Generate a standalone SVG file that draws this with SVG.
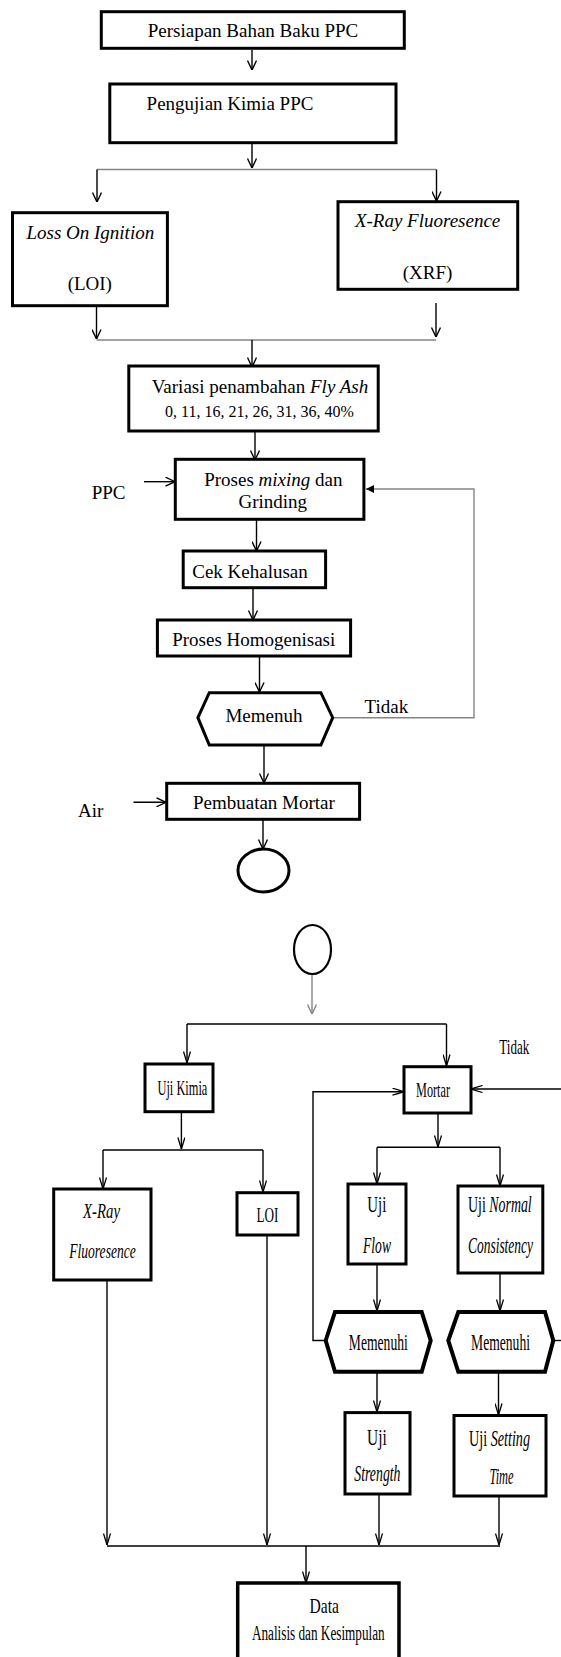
<svg xmlns="http://www.w3.org/2000/svg" width="561" height="1657" viewBox="0 0 561 1657">
<style>
.box{fill:#fff;stroke:#000;stroke-width:3}
.hex{fill:#fff;stroke:#000;stroke-width:3.5;stroke-linejoin:miter}
.t{font-family:"Liberation Serif","Times New Roman",serif;font-size:19px;fill:#000}
.s2{font-size:23px}
.s3{font-size:20px}
.m{text-anchor:middle}
.i{font-style:italic}
.ln{fill:none;stroke:#000;stroke-width:1.4}
.gl{fill:none;stroke:#858585;stroke-width:1.4}
.ar{marker-end:url(#a)}
.ag{marker-end:url(#ag)}
.ab{marker-end:url(#ab)}
.af{marker-end:url(#af)}
</style>
<defs>
<marker id="a" viewBox="0 0 10 10" refX="10" refY="5" markerWidth="10" markerHeight="10" markerUnits="userSpaceOnUse" orient="auto"><path d="M0.5,0.5 L10,5 L0.5,9.5" fill="none" stroke="#000" stroke-width="1.4"/></marker>
<marker id="ag" viewBox="0 0 10 10" refX="10" refY="5" markerWidth="10" markerHeight="10" markerUnits="userSpaceOnUse" orient="auto"><path d="M0.5,0.5 L10,5 L0.5,9.5" fill="none" stroke="#858585" stroke-width="1.4"/></marker>
<marker id="ab" viewBox="0 0 12 8" refX="12" refY="4" markerWidth="12" markerHeight="8" markerUnits="userSpaceOnUse" orient="auto"><path d="M0.5,0.5 L12,4 L0.5,7.5" fill="none" stroke="#000" stroke-width="1.3"/></marker>
<marker id="af" viewBox="0 0 8 8" refX="8" refY="4" markerWidth="8" markerHeight="8" markerUnits="userSpaceOnUse" orient="auto"><path d="M0,0 L8,4 L0,8 z" fill="#000"/></marker>
</defs>
<rect x="0" y="0" width="561" height="1657" fill="#fff"/>

<g id="connectors">
<path class="ln ar" d="M252,50 V70"/>
<path class="ln ar" d="M252,144 V168"/>
<path class="gl" d="M97,169.5 H436.5"/>
<path class="ln ar" d="M97,169.5 V202"/>
<path class="ln ar" d="M436.5,169.5 V201"/>
<path class="ln ar" d="M96.5,307 V339"/>
<path class="ln ar" d="M436,303 V337"/>
<path class="gl" d="M96.5,340 H436"/>
<path class="ln ar" d="M252,340 V367"/>
<path class="ln ar" d="M255,432 V460"/>
<path class="ln ar" d="M144,481.7 H175"/>
<path class="gl af" d="M332.7,717.7 H474 V489 H366"/>
<path class="ln ar" d="M256.5,520 V551"/>
<path class="ln ar" d="M253,589 V620"/>
<path class="ln ar" d="M259.5,657 V692"/>
<path class="ln ar" d="M264,746 V783"/>
<path class="ln ar" d="M133.5,802.3 H166"/>
<path class="ln ar" d="M263,816 V849"/>
<path class="gl ag" d="M312,974 V1014"/>

<path class="ln" d="M187,1024 H446.5"/>
<path class="ln ab" d="M187,1024 V1063"/>
<path class="ln ab" d="M446.5,1024 V1066"/>
<path class="ln ab" d="M181.4,1112 V1149"/>
<path class="ln" d="M103,1150 H263"/>
<path class="ln ab" d="M103,1150 V1189"/>
<path class="ln ab" d="M263,1150 V1192"/>
<path class="ln ab" d="M438,1113 V1147"/>
<path class="ln" d="M377,1147.3 H500"/>
<path class="ln ab" d="M377,1147.3 V1184"/>
<path class="ln ab" d="M500,1147.3 V1186"/>
<path class="ln ab" d="M377,1264 V1311"/>
<path class="ln ab" d="M500,1273 V1311"/>
<path class="ln ab" d="M325.7,1340.5 H313 V1091.7 H404"/>
<path class="ln ab" d="M561,1089 H471"/>
<path class="ln" d="M553.3,1340.5 H561"/>
<path class="ln ab" d="M377,1373 V1412"/>
<path class="ln ab" d="M498.5,1373 V1415"/>
<path class="ln ab" d="M107,1281 V1545"/>
<path class="ln ab" d="M267,1235 V1545"/>
<path class="ln ab" d="M379,1494 V1545"/>
<path class="ln ab" d="M499,1496 V1545"/>
<path class="ln" d="M107,1546 H500"/>
<path class="ln ab" d="M306,1546 V1583"/>
</g>

<g id="n-persiapan">
<rect class="box" x="101.3" y="11.7" width="303" height="36.6"/>
<text class="t m" x="253" y="37">Persiapan Bahan Baku PPC</text>
</g>
<g id="n-pengujian">
<rect class="box" x="109.8" y="84" width="286.2" height="58.7"/>
<text class="t m" x="230" y="110">Pengujian Kimia PPC</text>
</g>
<g id="n-loi">
<rect class="box" x="12.5" y="212.7" width="154.9" height="93"/>
<text class="t m i" x="90.3" y="239">Loss On Ignition</text>
<text class="t m" x="89.8" y="289.5">(LOI)</text>
</g>
<g id="n-xrf">
<rect class="box" x="338" y="201.7" width="179.7" height="87.6"/>
<text class="t m i" x="427.6" y="227">X-Ray Fluoresence</text>
<text class="t m" x="427.5" y="278.5">(XRF)</text>
</g>
<g id="n-variasi">
<rect class="box" x="128.8" y="366" width="249.4" height="65"/>
<text class="t m" x="260" y="392.7">Variasi penambahan <tspan class="i">Fly Ash</tspan></text>
<text class="t m" x="259.4" y="416.7" style="font-size:16px">0, 11, 16, 21, 26, 31, 36, 40%</text>
</g>
<g id="n-mixing">
<rect class="box" x="175.3" y="459.3" width="188.6" height="60"/>
<text class="t m" x="273.3" y="486">Proses <tspan class="i">mixing</tspan> dan</text>
<text class="t m" x="272.8" y="507.7">Grinding</text>
</g>
<g id="n-ppc">
<text class="t m" x="108.6" y="499.3">PPC</text>
</g>
<g id="n-cek">
<rect class="box" x="183.2" y="551" width="142.4" height="36.7"/>
<text class="t m" x="250" y="577.7">Cek Kehalusan</text>
</g>
<g id="n-homogen">
<rect class="box" x="157.4" y="620" width="193.2" height="36"/>
<text class="t m" x="253.7" y="646">Proses Homogenisasi</text>
</g>
<g id="n-memenuh">
<polygon class="hex" style="stroke-width:3" points="197.9,717.7 209.3,692.7 320.9,692.7 332.7,717.7 320.9,745 209.3,745"/>
<text class="t m" x="263.9" y="721.7">Memenuh</text>
</g>
<g id="n-tidak1">
<text class="t m" x="386.4" y="712.7">Tidak</text>
</g>
<g id="n-pembuatan">
<rect class="box" x="166.7" y="783.3" width="192.9" height="36"/>
<text class="t m" x="263.9" y="809">Pembuatan Mortar</text>
</g>
<g id="n-air">
<text class="t m" x="90.7" y="817.3">Air</text>
</g>
<g id="n-conn1">
<ellipse cx="263.5" cy="870.5" rx="25.5" ry="21.5" fill="#fff" stroke="#000" stroke-width="3"/>
</g>
<g id="n-conn2">
<ellipse cx="312.5" cy="949.5" rx="18.5" ry="24.5" fill="#fff" stroke="#000" stroke-width="2.2"/>
</g>

<g id="n-ujikimia">
<rect class="box" x="145" y="1064" width="68" height="47.7"/>
<text class="t s3 m" transform="translate(182.4,1095) scale(0.62,1)">Uji Kimia</text>
</g>
<g id="n-mortar">
<rect class="box" x="404" y="1066.7" width="67" height="46.3"/>
<text class="t s3 m" transform="translate(433,1096.5) scale(0.612,1)">Mortar</text>
</g>
<g id="n-tidak2">
<text class="t m" style="font-size:21px" transform="translate(514.3,1054) scale(0.622,1)">Tidak</text>
</g>
<g id="n-xrf2">
<rect class="box" x="53.7" y="1189" width="97.3" height="91"/>
<text class="t s3 m i" transform="translate(101.5,1218) scale(0.74,1)">X-Ray</text>
<text class="t s3 m i" transform="translate(102.5,1258) scale(0.678,1)">Fluoresence</text>
</g>
<g id="n-loi2">
<rect class="box" x="237" y="1192.7" width="61" height="42.3"/>
<text class="t s3 m" transform="translate(267.5,1222) scale(0.66,1)">LOI</text>
</g>
<g id="n-flow">
<rect class="box" x="348" y="1184" width="58" height="80"/>
<text class="t s2 m" transform="translate(376.8,1212) scale(0.646,1)">Uji</text>
<text class="t s2 m i" transform="translate(377,1253) scale(0.59,1)">Flow</text>
</g>
<g id="n-normal">
<rect class="box" x="458" y="1186" width="84.8" height="87"/>
<text class="t s2 m" transform="translate(499.9,1212) scale(0.604,1)">Uji <tspan class="i">Normal</tspan></text>
<text class="t s2 m i" transform="translate(500.5,1253) scale(0.585,1)">Consistency</text>
</g>
<g id="n-memenuhi1">
<polygon class="hex" style="stroke-width:4" points="325.7,1340.5 335,1312 421.7,1312 430.7,1340.5 421.7,1371.8 335,1371.8"/>
<text class="t s2 m" transform="translate(378.3,1350) scale(0.592,1)">Memenuhi</text>
</g>
<g id="n-memenuhi2">
<polygon class="hex" style="stroke-width:4" points="448.3,1340.5 458.3,1312 545,1312 553.3,1340.5 545,1371.8 458.3,1371.8"/>
<text class="t s2 m" transform="translate(500.5,1350) scale(0.592,1)">Memenuhi</text>
</g>
<g id="n-strength">
<rect class="box" x="345" y="1412.6" width="65" height="81.4"/>
<text class="t s2 m" transform="translate(376.9,1445) scale(0.67,1)">Uji</text>
<text class="t s2 m i" transform="translate(377.4,1481) scale(0.6,1)">Strength</text>
</g>
<g id="n-setting">
<rect class="box" x="454" y="1415.5" width="92" height="80.5"/>
<text class="t s2 m" transform="translate(499.5,1446) scale(0.616,1)">Uji <tspan class="i">Setting</tspan></text>
<text class="t s2 m i" transform="translate(501.5,1484) scale(0.54,1)">Time</text>
</g>
<g id="n-data">
<rect class="box" style="stroke-width:3.5" x="237.7" y="1583" width="161.3" height="90"/>
<text class="t s3 m" transform="translate(324.3,1613) scale(0.78,1)">Data</text>
<text class="t s3 m" transform="translate(318.3,1640) scale(0.66,1)">Analisis dan Kesimpulan</text>
</g>
</svg>
